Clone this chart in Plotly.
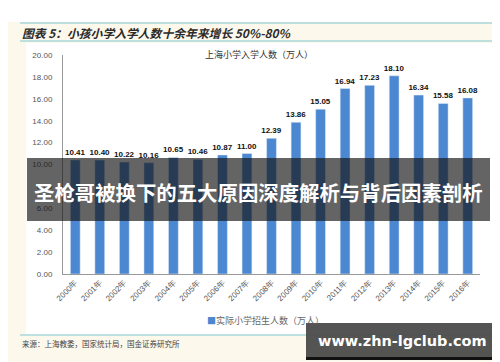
import plotly.graph_objects as go

years = ["2000年", "2001年", "2002年", "2003年", "2004年", "2005年", "2006年", "2007年", "2008年",
         "2009年", "2010年", "2011年", "2012年", "2013年", "2014年", "2015年", "2016年"]
enrollment = [10.41, 10.40, 10.22, 10.16, 10.65, 10.46, 10.87, 11.00, 12.39,
              13.86, 15.05, 16.94, 17.23, 18.10, 16.34, 15.58, 16.08]
series_name = "实际小学招生人数（万人）"
chart_title = "图表 5：小孩小学入学人数十余年来增长 50%-80%"
subtitle = "上海小学入学人数（万人）"
source = "来源：上海教委，国家统计局，国金证券研究所"
banner = "圣枪哥被换下的五大原因深度解析与背后因素剖析"
watermark = "www.zhn-lgclub.com"

W, H = 500, 362
def px(x): return x / W
def py(y): return 1 - y / H

FONT = "Noto Sans CJK SC"
BAR = "#4c88d1"

fig = go.Figure()
fig.add_trace(go.Bar(
    x=years, y=enrollment, name=series_name,
    marker=dict(color=BAR),
    texttemplate="%{y:.2f}", textposition="outside", constraintext="none",
    textfont=dict(family="Liberation Sans", size=8, color="#111111", weight="bold"),
    cliponaxis=False, showlegend=False,
))

shapes = [
    dict(type="rect", xref="paper", yref="paper", x0=px(18), x1=px(490), y0=py(327), y1=py(35),
         fillcolor="white", line=dict(width=0), layer="below"),
    dict(type="rect", xref="paper", yref="paper", x0=0, x1=1, y0=py(14), y1=1,
         fillcolor="white", line=dict(width=0), layer="below"),
    dict(type="line", xref="paper", yref="paper", x0=px(12), x1=1, y0=py(15), y1=py(15),
         line=dict(color="#7fc8cf", width=1.2)),
    dict(type="line", xref="paper", yref="paper", x0=px(12), x1=1, y0=py(33), y1=py(33),
         line=dict(color="#7fc8cf", width=1.2)),
    dict(type="line", xref="paper", yref="paper", x0=px(12), x1=1, y0=py(327), y1=py(327),
         line=dict(color="#7fc8cf", width=1.2)),
    dict(type="rect", xref="paper", yref="paper", x0=px(19), x1=px(482), y0=py(213), y1=py(150),
         fillcolor="rgba(20,20,20,0.66)", line=dict(width=0), layer="above"),
    dict(type="rect", xref="paper", yref="paper", x0=px(298), x1=px(491), y0=py(352), y1=py(315),
         fillcolor="rgba(75,75,75,0.95)", line=dict(width=0), layer="above"),
    dict(type="rect", xref="paper", yref="paper", x0=px(298), x1=px(491), y0=py(352), y1=py(349),
         fillcolor="#111111", line=dict(width=0), layer="above"),
]

annotations = [
    dict(text=chart_title, x=px(12), y=py(24), xref="paper", yref="paper", xanchor="left", yanchor="middle",
         showarrow=False, font=dict(family=FONT, size=11.8, color="#2a2a2a", style="italic", weight="bold")),
    dict(text=subtitle, x=px(251), y=py(47), xref="paper", yref="paper", xanchor="center", yanchor="middle",
         showarrow=False, font=dict(family=FONT, size=9, color="#333333")),
    dict(text=f"<span style='color:{BAR}'>■</span>{series_name}", x=px(197), y=py(312),
         xref="paper", yref="paper", xanchor="left", yanchor="middle",
         showarrow=False, font=dict(family=FONT, size=9, color="#666666")),
    dict(text=source, x=px(12), y=py(335), xref="paper", yref="paper", xanchor="left", yanchor="middle",
         showarrow=False, font=dict(family=FONT, size=7.5, color="#444444")),
    dict(text=banner, x=px(250), y=py(184), xref="paper", yref="paper", xanchor="center", yanchor="middle",
         showarrow=False, font=dict(family=FONT, size=20.4, color="white", weight="bold")),
    dict(text=watermark, x=px(394), y=py(333), xref="paper", yref="paper", xanchor="center", yanchor="middle",
         showarrow=False, font=dict(family="DejaVu Sans", size=14.5, color="white", weight="bold")),
]

fig.update_layout(
    width=W, height=H,
    margin=dict(l=0, r=0, t=0, b=0),
    paper_bgcolor="#fdf8ec", plot_bgcolor="white",
    bargap=0.6,
    showlegend=False,
    xaxis=dict(domain=[px(55), px(472)], tickangle=-45, showline=True, linecolor="#999999",
               linewidth=1, ticks="", automargin=False,
               tickfont=dict(family="Liberation Sans", size=8, color="#555555")),
    yaxis=dict(domain=[py(266), py(47)], range=[0, 20], dtick=2, tickformat=".2f", showgrid=False,
               showline=True, linecolor="#999999", linewidth=1, ticks="", zeroline=False,
               ticklabelstandoff=8, automargin=False,
               tickfont=dict(family="Liberation Sans", size=8, color="#555555")),
    shapes=shapes, annotations=annotations,
)

fig.write_html("out.html")
